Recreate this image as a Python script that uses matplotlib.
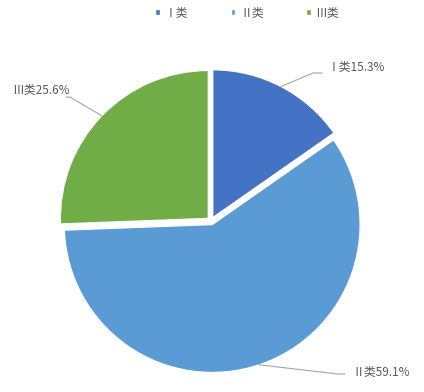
import numpy as np
import matplotlib
matplotlib.use("Agg")
import matplotlib.pyplot as plt

plt.rcParams['font.family'] = ['Noto Sans CJK SC', 'DejaVu Sans']

categories = ['Ⅰ类', 'Ⅱ类', 'Ⅲ类']
shares = [15.3, 59.1, 25.6]
colors = ['#4472C4', '#5B9BD5', '#70AD47']

W, H = 424, 392
fig = plt.figure(figsize=(W / 100, H / 100), dpi=100)
ax = fig.add_axes([0, 0, 1, 1])

cx, cy, r = 211, H - 221, 148
# explode is in data units (pixels here)
wedges, _ = ax.pie(shares, colors=colors, startangle=90, counterclock=False,
                   explode=[3.7] * 3, radius=r, center=(cx, cy),
                   wedgeprops=dict(edgecolor='white', linewidth=1))
ax.set_xlim(0, W)
ax.set_ylim(0, H)
ax.set_aspect('equal')
ax.axis('off')

gray = '#595959'
line_c = '#A6A6A6'
# elbow point, line end and text anchor for each label (pixel coords, y down)
label_pos = [((313, 73), (322, 73), (328, 67), 'left'),
             ((338, 374), (345, 374), (352, 372), 'left'),
             ((70, 97), (66, 97), (70, 90), 'right')]

for w, cat, val, (elbow, end, txt, ha) in zip(wedges, categories, shares, label_pos):
    mid = np.deg2rad((w.theta1 + w.theta2) / 2)
    px = w.center[0] + w.r * np.cos(mid)
    py = w.center[1] + w.r * np.sin(mid)
    ax.plot([px, elbow[0], end[0]], [py, H - elbow[1], H - end[1]],
            color=line_c, lw=0.8)
    ax.text(txt[0], H - txt[1], f"{cat}{val:.1f}%", ha=ha, va='center',
            fontsize=8.5, color=gray)

leg = fig.legend(wedges, categories, loc='upper center', ncol=3, frameon=False,
                 bbox_to_anchor=(0.583, 1.012), fontsize=8.5, handlelength=0.4,
                 handleheight=0.4, handletextpad=0.4, columnspacing=3.6)
for t in leg.get_texts():
    t.set_color(gray)

fig.savefig('out.png', dpi=100)
